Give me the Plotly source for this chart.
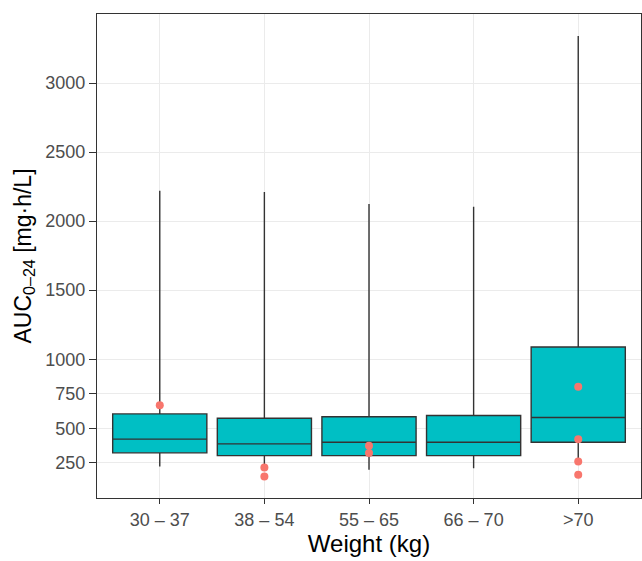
import plotly.graph_objects as go

# Weight groups and AUC summary statistics (mg·h/L)
groups = ["30 – 37", "38 – 54", "55 – 65", "66 – 70", ">70"]
q1 = [322, 302, 302, 302, 399]
median = [421, 387, 399, 399, 578]
q3 = [604, 573, 583, 592, 1089]
lower = [223, 220, 199, 211, 259]
upper = [2220, 2211, 2124, 2105, 3340]

# Observed individual values overlaid on the boxes
obs_group = ["30 – 37", "38 – 54", "38 – 54", "55 – 65", "55 – 65",
             ">70", ">70", ">70", ">70"]
obs_auc = [667, 216, 151, 373, 320, 800, 421, 259, 163]

y_ticks = [250, 500, 750, 1000, 1500, 2000, 2500, 3000]

font_family = "Liberation Sans, Arial, sans-serif"

fig = go.Figure()
fig.add_trace(go.Box(
    x=groups, q1=q1, median=median, q3=q3,
    lowerfence=lower, upperfence=upper,
    boxpoints=False, width=0.9, whiskerwidth=0,
    fillcolor="#00BFC4", line=dict(color="#333333", width=1.4),
    hoverinfo="skip", showlegend=False,
))
fig.add_trace(go.Scatter(
    x=obs_group, y=obs_auc, mode="markers",
    marker=dict(color="#F8766D", size=8),
    showlegend=False,
))

axis_common = dict(
    showline=True, mirror=True, linecolor="#333333", linewidth=1.3,
    showgrid=True, gridcolor="#EBEBEB", gridwidth=1,
    ticks="outside", tickcolor="#333333",
    tickfont=dict(family=font_family, size=18, color="#4D4D4D"),
    zeroline=False,
)

fig.update_layout(
    width=642, height=561,
    margin=dict(l=97, r=1, t=14, b=63),
    paper_bgcolor="white", plot_bgcolor="white",
    font=dict(family=font_family),
    xaxis=dict(
        **axis_common,
        ticklen=5,
        type="category", range=[-0.6, 4.6],
        title=dict(text="Weight (kg)", font=dict(size=24, color="black"), standoff=3),
    ),
    yaxis=dict(
        **axis_common,
        ticklen=7,
        range=[-5, 3500], tickvals=y_ticks,
        title=dict(text="AUC<sub>0–24</sub> [mg·h/L]", font=dict(size=23, color="black"), standoff=7),
    ),
)

fig.write_html("out.html")
